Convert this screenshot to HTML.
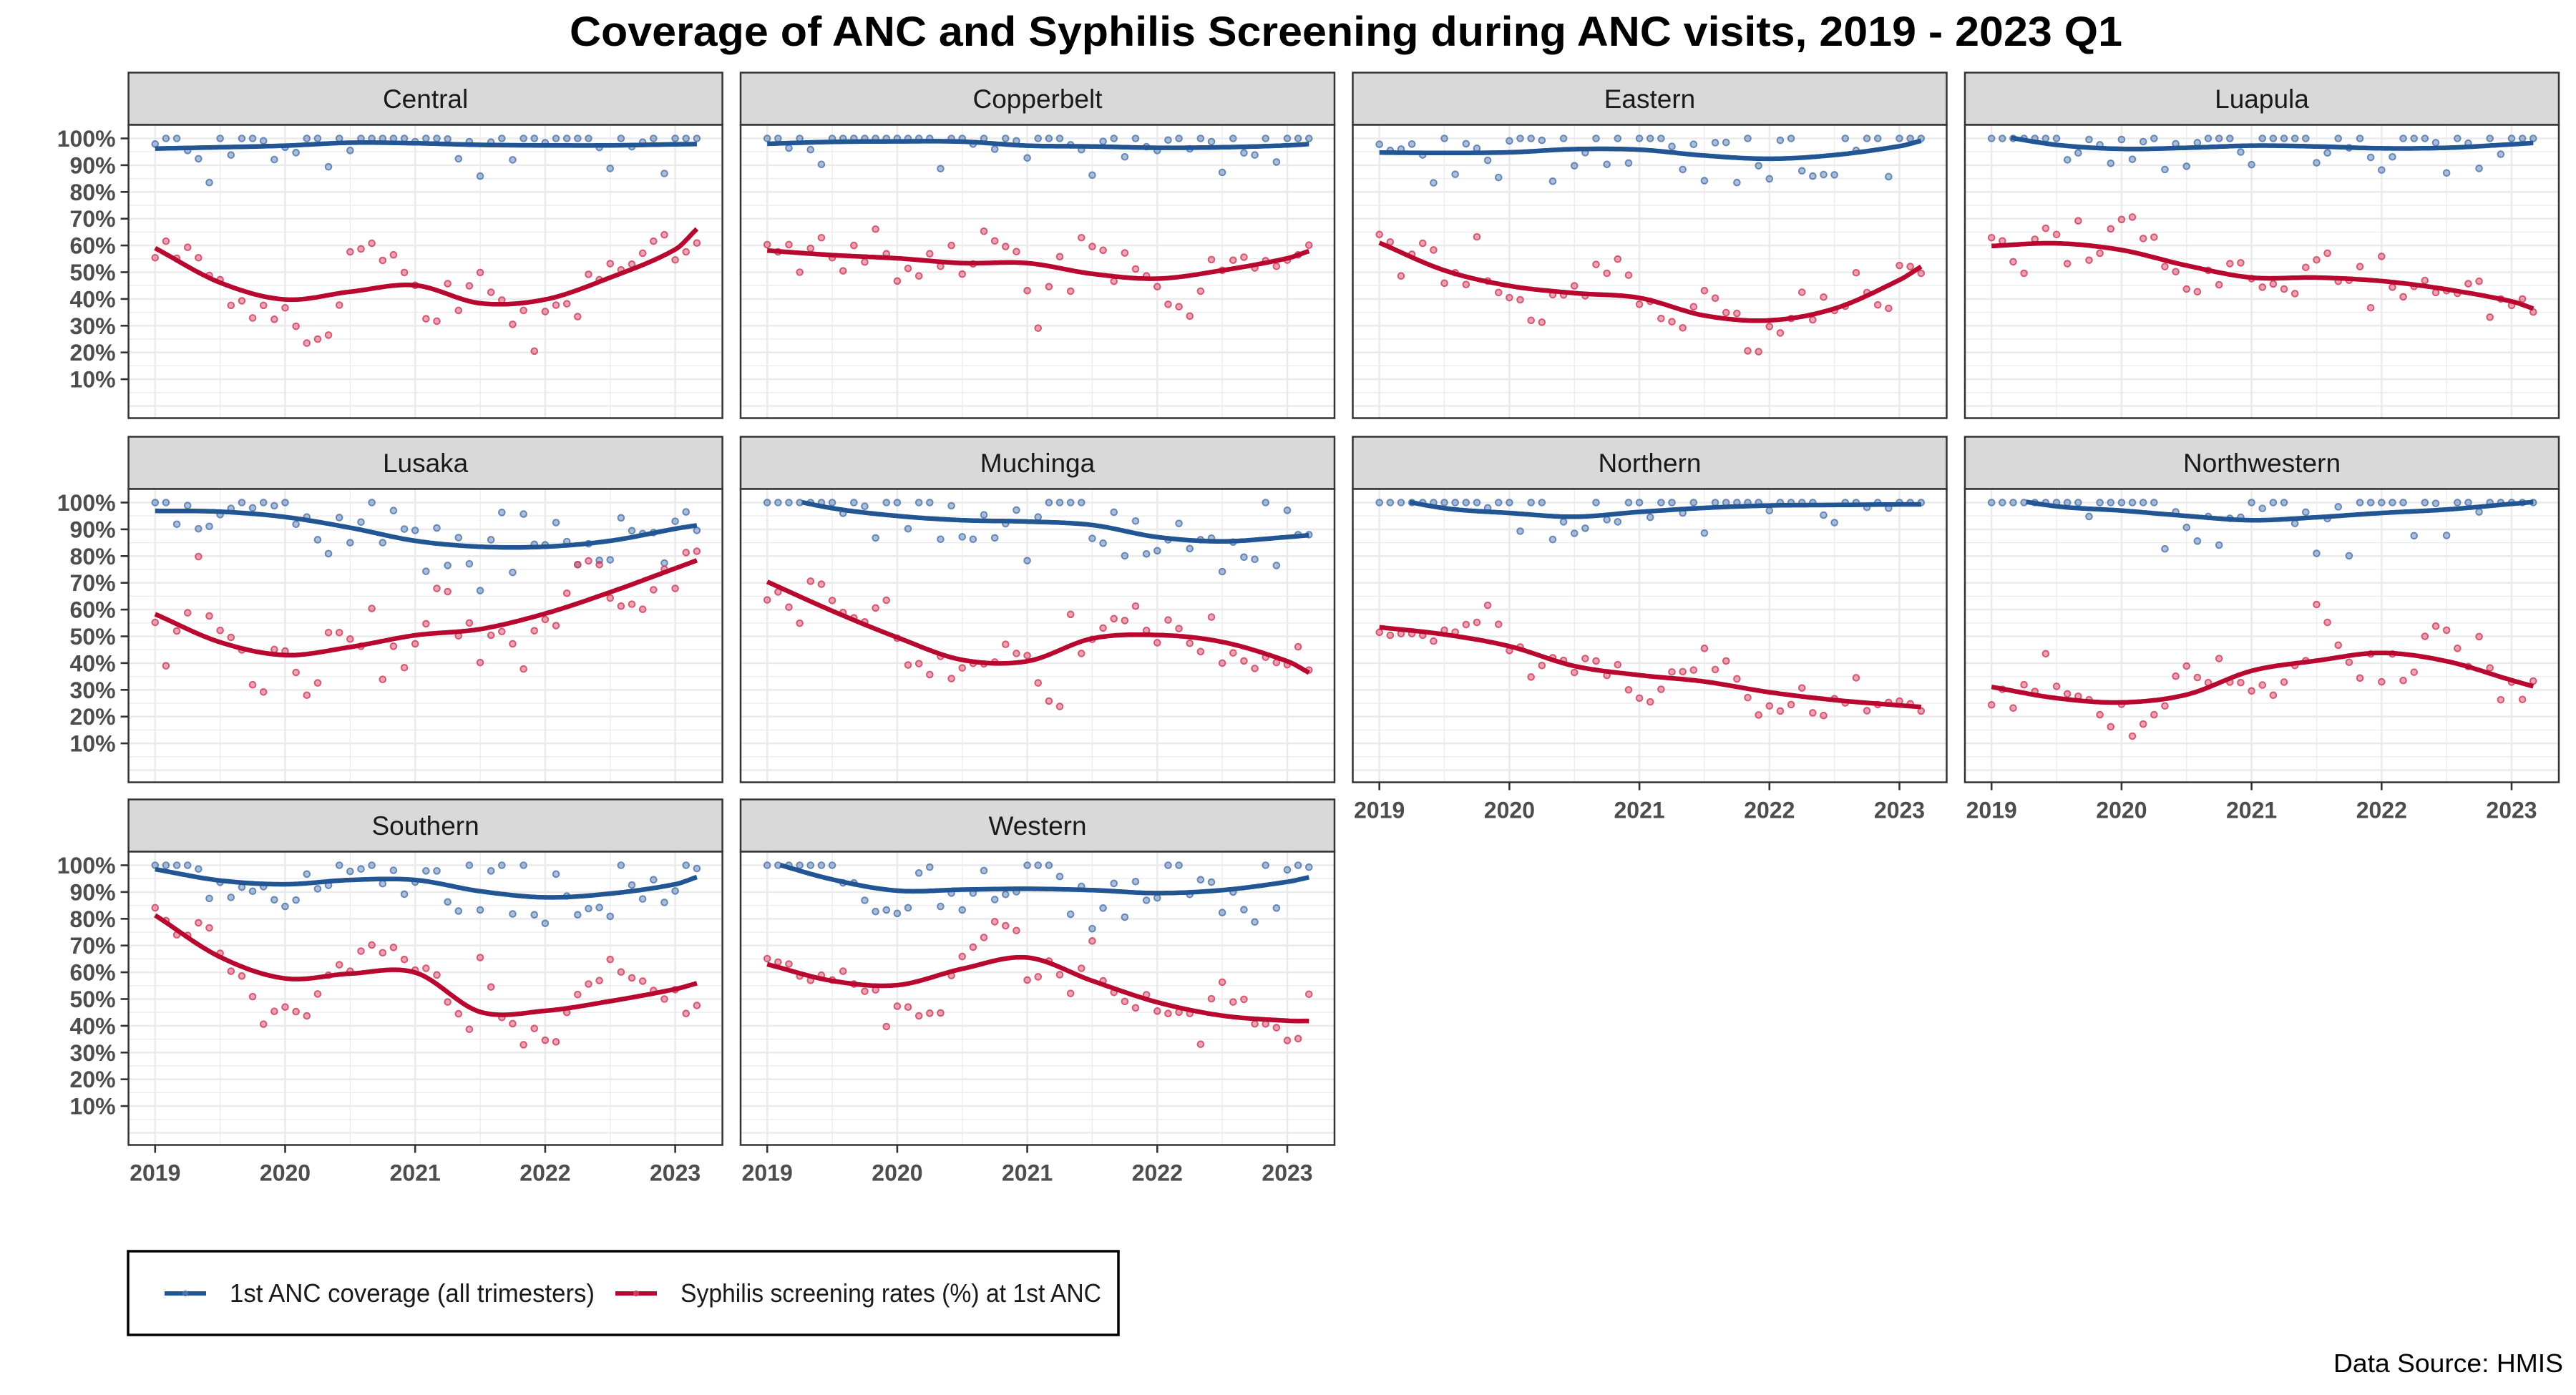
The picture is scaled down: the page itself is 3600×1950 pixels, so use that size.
<!DOCTYPE html>
<html><head><meta charset="utf-8"><title>Coverage of ANC and Syphilis Screening</title>
<style>
html,body{margin:0;padding:0;background:#fff;}
svg{display:block;font-family:"Liberation Sans",sans-serif;}
</style></head>
<body>
<svg id="chart" width="3600" height="1950" viewBox="0 0 3600 1950" xmlns="http://www.w3.org/2000/svg">
<rect x="0" y="0" width="3600" height="1950" fill="#fff"/>
<text x="1881" y="64" text-anchor="middle" font-size="58" font-weight="bold" fill="#000" textLength="2170" lengthAdjust="spacingAndGlyphs">Coverage of ANC and Syphilis Screening during ANC visits, 2019 - 2023 Q1</text>
<g id="panels"></g>
<g>
<rect x="179" y="1749" width="1384" height="117" fill="#fff" stroke="#000" stroke-width="3.5"/>
<g>
<line x1="230" y1="1808" x2="288" y2="1808" stroke="#215594" stroke-width="6"/>
<circle cx="259" cy="1808" r="4" fill="#4a72ab"/>
<text x="321" y="1820" font-size="36" fill="#1a1a1a" textLength="510" lengthAdjust="spacingAndGlyphs">1st ANC coverage (all trimesters)</text>
</g>
<g>
<line x1="860" y1="1808" x2="918" y2="1808" stroke="#b8082f" stroke-width="6"/>
<circle cx="889" cy="1808" r="4" fill="#d03a5a"/>
<text x="951" y="1820" font-size="36" fill="#1a1a1a" textLength="588" lengthAdjust="spacingAndGlyphs">Syphilis screening rates (%) at 1st ANC</text>
</g>
</g>
<text x="3582" y="1918" text-anchor="end" font-size="36" fill="#000" textLength="321" lengthAdjust="spacingAndGlyphs">Data Source: HMIS</text>
</svg>
<script>
// ---- data ----
const regions = ["Central","Copperbelt","Eastern","Luapula","Lusaka","Muchinga","Northern","Northwestern","Southern","Western"];
const yearTicks = [2019,2020,2021,2022,2023];
const yTickValues = [10,20,30,40,50,60,70,80,90,100];
const yTickLabels = ["10%","20%","30%","40%","50%","60%","70%","80%","90%","100%"];
const smoothKnots = [2019,2019.5,2020,2020.5,2021,2021.5,2022,2022.5,2023,2023.1667];

const centralAnc = [97.9,100,100,95.5,92.4,83.5,100,93.8,100,100,99.1,92.1,96.7,94.7,100,100,89.4,100,95.5,100,100,100,100,100,98.8,100,100,99.8,92.4,98.8,85.9,98.6,100,92,100,100,98.4,100,100,100,100,96.6,88.8,100,96.9,98.6,100,86.9,100,100,100];
const centralSyph = [55.4,61.6,55.2,59.3,55.4,48.8,47.2,37.6,39.3,32.9,37.6,32.4,36.7,29.8,23.5,25,26.5,37.7,57.6,58.7,60.8,54.4,56.5,49.9,45.1,32.6,31.7,45.7,35.7,44.9,49.9,42.5,39.6,30.5,35.7,20.5,35.3,37.7,38.2,33.4,49.2,47.2,53.2,50.9,53,57.1,61.6,64,54.6,57.6,60.9];
const centralAncSmooth = [96.2,96.7,97.3,98.4,98.2,97.6,97.4,97.4,97.8,97.9];
const centralSyphSmooth = [59,46.1,39.8,42.7,45.1,38.4,39.8,48,58.5,66.2];

const copperbeltAnc = [100,100,96.4,100,95.8,90.3,100,100,100,100,100,100,100,100,100,100,88.7,100,100,97.9,100,96,100,99.1,92.7,100,100,100,97.6,95.8,86.3,98.9,100,93.1,100,96.9,95.5,99.4,100,96.1,100,98.8,87.3,100,94.6,93.8,100,91.2,100,100,100];
const copperbeltSyph = [60.3,57.6,60.3,50,58.9,62.9,55.4,50.5,60,53.8,66.1,56.9,46.7,51.4,48.6,56.9,52.2,60,49.3,53.1,65.3,61.7,59.6,57.7,43.1,29.1,44.6,55.8,42.9,62.9,59.6,58.2,46.6,57.2,51.2,48.6,44.6,38,37.1,33.6,42.9,54.7,50.7,54.5,55.6,51.6,54.3,52.2,54.5,56.5,60.1];
const copperbeltAncSmooth = [98,98.7,98.9,98.8,97.3,97,96.5,96.7,97.4,97.9];
const copperbeltSyphSmooth = [58.1,56.4,55.2,53.4,53.4,49.4,47.6,50.7,55.2,57.9];

const easternAnc = [97.8,95.5,96,97.9,93.8,83.4,100,86.6,98,96.3,91.8,85.4,99.1,100,100,99.3,84,100,89.8,94.7,100,90.3,100,90.8,100,100,100,97,88.4,97.8,84.2,98.4,98.5,83.5,100,89.8,84.9,99.3,100,87.9,85.9,86.5,86.4,100,95.5,100,100,85.7,100,100,100];
const easternSyph = [64.1,61.3,48.6,56.7,60.8,58.3,45.9,49.8,45.4,63.2,46.7,42.4,40.5,39.7,32,31.3,41.6,41.5,44.9,41.2,52.9,49.6,54.9,48.9,38,39.1,32.7,31.5,29.2,37.1,43.1,40.3,34.9,34.6,20.6,20.3,29.7,27.3,32.7,42.5,32.2,40.7,35.7,37.3,49.8,42.4,37.8,36.5,52.5,52.1,49.6];
const easternAncSmooth = [94.7,94.6,94.8,96,95.8,93.6,92.4,93.8,97.1,99.1];
const easternSyphSmooth = [61,50.7,44.9,42.2,40.4,33.8,32,36.4,47.1,52.1];

const luapulaAnc = [100,100,100,100,100,100,100,92,94.6,99.6,97.6,90.7,99.6,92.2,98.8,100,88.4,98,89.6,98.4,100,100,100,94.9,90.2,100,100,100,100,100,90.9,94.6,100,96.5,100,92.9,88.2,93.1,100,100,100,98.4,87.1,100,98.2,88.8,100,94.1,100,100,100];
const luapulaSyph = [62.9,61.7,53.9,49.6,62.3,66.4,64.1,53.2,69.2,54.5,57.1,66.2,69.7,70.6,62.6,63.1,52.1,50.2,43.7,42.7,50.7,45.3,53.2,53.5,47.6,44.4,45.6,43.7,42,51.8,54.6,57.1,46.6,47,52.1,36.7,55.9,44.4,40.8,44.7,46.9,42.4,43.1,42.1,45.7,46.6,33.2,40,37.6,40,35.1];
const luapulaAncSmooth = [101.5,97.6,96.1,96.5,97.3,97,96.3,96.5,97.8,98.3];
const luapulaSyphSmooth = [59.8,60.8,58.3,52.5,48,48,46.7,43.6,39.1,36.4];

const lusakaAnc = [100,100,91.9,98.9,90.2,91.1,95.5,97.8,100,98,100,98.8,100,91.9,94.6,86.1,80.9,94.4,85,92.7,100,85,97,90.1,89.6,74.3,90.5,76.5,86.9,77.1,67.1,86.1,96.3,73.9,95.7,84.4,84.2,92.5,85.4,76.8,84.6,78.4,78.6,94.3,89.5,88.4,88.8,77.4,93,96.5,89.6];
const lusakaSyph = [55.2,39,52,58.8,79.8,57.6,52.2,49.6,44.9,31.9,29.2,45.1,44.5,36.5,28,32.6,51.4,51.4,49,46.3,60.4,33.9,46.3,38.3,47.2,54.7,67.9,66.7,50.2,55,40.2,50.4,51.8,47.2,37.8,52.1,56.3,54,66.1,76.8,78.2,76.8,64.3,61.3,62,60.1,67.4,75.1,67.9,81.3,81.8];
const lusakaAncSmooth = [96.9,96.6,94.6,90.6,85.7,83.5,83.5,85.7,90.2,91.5];
const lusakaSyphSmooth = [58.3,47.8,43,46,50.4,52.7,58.5,66.5,75.4,78.4];

const muchingaAnc = [100,100,100,100,100,100,100,96,100,98.6,86.8,100,100,90.2,100,100,86.3,98.8,87.2,86.3,95.4,86.8,92.1,97.2,78.3,94.6,100,100,100,100,86.6,84.8,96.4,80.1,93.1,80.8,82,86.1,92.2,82.8,86.1,86.7,74.2,85.2,79.6,78.8,100,76.5,97.1,88,88];
const muchingaSyph = [63.6,66.6,60.9,54.9,70.6,69.5,63.4,58.9,56.9,55.4,60.6,63.5,49.3,39.3,39.8,35.7,42.5,34.2,38.2,39.9,39.7,40.4,47,43.6,42.8,32.6,25.8,23.8,58.2,43.6,48.9,53.1,56.6,55.9,61.3,52.2,47.6,56.1,52.9,47.4,44.3,57.2,40,43.8,40.8,38,42.2,40.2,39.4,46.1,37.4];
const muchingaAncSmooth = [103,97.9,95,93.4,92.9,91.6,87.1,85.5,87.1,87.8];
const muchingaSyphSmooth = [70.4,59.5,49.6,41.2,40.7,49.2,50.5,47.9,40.7,36.4];

const northernAnc = [100,100,100,100,100,100,100,100,100,100,98,100,100,89.3,100,100,86.2,92.8,88.5,90.4,100,93.6,92.8,100,100,94.5,100,100,96.1,100,88.6,100,100,100,100,100,97,100,100,100,100,95.3,92.5,100,100,98.2,100,97.9,100,100,100];
const northernSyph = [51.5,50.4,51,51,50.4,48.2,52.3,51.6,54.4,55.2,61.6,54.5,44.7,46,34.8,39.1,42,41,36.5,41.7,40.8,35.4,39.4,30,26.9,25.5,30.2,36.7,36.8,37.4,45.5,37.6,40.8,34.1,27.1,20.6,24,22.1,24.5,30.7,21.4,20.4,26.7,25.1,34.5,22.2,24.5,25.3,25.8,24.8,22.1];
const northernAncSmooth = [102.5,97.9,96.1,94.7,96.5,98,98.9,99.1,99.3,99.3];
const northernSyphSmooth = [53.4,50.7,46.3,38.9,35.5,33.1,29.1,26.2,24.2,23.6];

const northwesternAnc = [100,100,100,100,100,100,100,100,100,94.8,100,100,100,100,100,100,82.7,96.5,90.7,85.6,94.8,84.1,94.1,94.5,100,97.8,100,100,92.2,96.4,81,94,98.4,80.1,100,100,100,100,100,87.6,100,99.7,87.7,100,100,96.5,100,100,100,100,100];
const northwesternSyph = [24.4,30.2,23.2,31.9,29.4,43.5,31.3,28.5,27.6,26.3,20.7,16.2,24.6,12.7,17.2,20.7,24,35.1,38.9,34.6,32.7,41.7,32.9,32.7,29.6,31.8,28,32.9,39.1,40.9,61.9,55.2,46.7,40.3,34.4,43.4,33,43.4,33.5,36.6,50,53.8,52.3,45.5,38.7,49.9,38.2,26.3,32.9,26.4,33.3];
const northwesternAncSmooth = [102.5,98.6,97,95,93.4,94.5,96.1,97.4,99.5,100.2];
const northwesternSyphSmooth = [31.1,26.9,25.3,28.2,37.1,40.9,43.8,40.7,33.6,31.3];

const southernAnc = [100,100,100,100,98.6,87.6,93.6,88,91.8,90.3,92,87.1,84.6,87,96.7,91.2,92.5,100,97.7,98.6,100,93.1,98.1,89.2,93.7,97.9,97.9,86.3,82.9,100,83.3,97.9,100,81.8,100,81.5,78.3,96.7,88.5,81.5,83.8,84.2,80.9,100,92.6,87.4,94.6,86.1,90.4,100,98.8];
const southernSyph = [84.1,79.3,74,73.8,78.5,76.6,67.1,60.4,58.6,50.9,40.6,45.4,47,45.3,43.7,51.9,58.9,62.8,60.4,67.9,70.2,67.3,69.3,64.8,60.8,61.5,59,48.9,44.5,38.7,65.5,54.5,43.1,40.8,32.9,39,34.6,34,45,51.7,55.6,56.9,64.8,60.1,57.9,56.7,53.2,50,53.5,44.6,47.6];
const southernAncSmooth = [98.5,94.3,92.9,94.5,94.5,90.3,88,89.4,92.9,95.6];
const southernSyphSmooth = [81.3,65.7,57.7,59.5,59.9,45.2,45.6,49.2,53.7,55.9];

const westernAnc = [100,100,100,100,100,100,100,93.4,93.4,86.9,82.7,83.3,82,84.1,97.1,99.3,84.6,89.6,83.3,89.6,98,87.2,89.1,90.1,100,100,100,95.8,81.7,92.1,76.3,84,93.2,80.6,93.9,86.9,87.8,100,100,89.1,94.6,93.7,82.3,90,83.4,78.8,100,84,98.3,100,99.3];
const westernSyph = [65.1,63.8,63.1,58.6,57,58.9,57.1,60.4,55.6,52.9,53.4,39.7,47.3,47,43.7,44.7,44.8,58.8,65.9,69.4,73,78.9,77.4,75.6,57.1,58.3,64.2,59.1,52.1,61.5,71.7,56.8,52.5,49.1,46.7,51.6,45.5,44.6,45.1,44.6,33.1,50.1,56.3,48.9,49.9,40.7,40.7,39.3,34.5,35.2,51.8];
const westernAncSmooth = [101.5,94.7,90.5,90.9,91.2,90.7,89.6,90.7,93.8,95.5];
const westernSyphSmooth = [63,56.8,55.2,61.3,65.5,56.8,48.8,43.8,41.9,41.8];

const ancSeries = [centralAnc,copperbeltAnc,easternAnc,luapulaAnc,lusakaAnc,muchingaAnc,northernAnc,northwesternAnc,southernAnc,westernAnc];
const syphSeries = [centralSyph,copperbeltSyph,easternSyph,luapulaSyph,lusakaSyph,muchingaSyph,northernSyph,northwesternSyph,southernSyph,westernSyph];
const ancSmoothSeries = [centralAncSmooth,copperbeltAncSmooth,easternAncSmooth,luapulaAncSmooth,lusakaAncSmooth,muchingaAncSmooth,northernAncSmooth,northwesternAncSmooth,southernAncSmooth,westernAncSmooth];
const syphSmoothSeries = [centralSyphSmooth,copperbeltSyphSmooth,easternSyphSmooth,luapulaSyphSmooth,lusakaSyphSmooth,muchingaSyphSmooth,northernSyphSmooth,northwesternSyphSmooth,southernSyphSmooth,westernSyphSmooth];

// ---- layout ----
const NS = "http://www.w3.org/2000/svg";
const colLeft = [179.6, 1035, 1890.5, 2746];
const rowTop = [101.5, 610.5, 1117.5];
const PW = 830, STRIP = 73, PH = 410;
const ANC_COLOR = "#215594", SYPH_COLOR = "#b8082f";
const ANC_DOT = "#4a72ab", SYPH_DOT = "#d03a5a";

function mk(tag, attrs, parent){
  const e = document.createElementNS(NS, tag);
  for (const k in attrs) e.setAttribute(k, attrs[k]);
  parent.appendChild(e);
  return e;
}
function monthX(i){ return 2019 + i/12; }

function hermite(xs, ys){
  const n = xs.length, m = [];
  for (let i=0;i<n;i++){
    if (i===0) m.push((ys[1]-ys[0])/(xs[1]-xs[0]));
    else if (i===n-1) m.push((ys[n-1]-ys[n-2])/(xs[n-1]-xs[n-2]));
    else m.push((ys[i+1]-ys[i-1])/(xs[i+1]-xs[i-1]));
  }
  const pts = [];
  for (let i=0;i<n-1;i++){
    const h = xs[i+1]-xs[i];
    const steps = Math.max(6, Math.round(h*60));
    for (let s=0;s<=steps;s++){
      if (i>0 && s===0) continue;
      const t = s/steps, t2=t*t, t3=t2*t;
      const y = (2*t3-3*t2+1)*ys[i] + (t3-2*t2+t)*h*m[i] + (-2*t3+3*t2)*ys[i+1] + (t3-t2)*h*m[i+1];
      pts.push([xs[i]+t*h, y]);
    }
  }
  return pts;
}

const root = document.getElementById('panels');
regions.forEach((name, idx) => {
  const col = idx % 4, row = Math.floor(idx/4);
  const L = colLeft[col], T = rowTop[row], PT = T + STRIP;
  const sx = v => L + 37.2 + (v-2019)*181.7;
  const sy = v => PT + 19 + (100-v)*3.74;
  const slug = name.toLowerCase();
  const g = mk('g', {}, root);
  
  

  const strip = mk('rect', {x:L, y:T, width:PW, height:STRIP, fill:'#d9d9d9', stroke:'#333', 'stroke-width':2.5}, g);
  
  
  const st = mk('text', {x:L+PW/2, y:T+STRIP/2+13, 'text-anchor':'middle', 'font-size':37, fill:'#1a1a1a'}, g);
  st.textContent = name;
  
  

  const bg = mk('rect', {x:L, y:PT, width:PW, height:PH, fill:'#fff'}, g);
  
  

  const grid = mk('g', {}, g);
  
  
  for (let v=-5; v<=105; v+=5){
    const y = sy(v);
    if (y < PT || y > PT+PH) continue;
    const major = v % 10 === 0;
    const gl = mk('line', {x1:L, x2:L+PW, y1:y, y2:y, stroke:'#ebebeb', 'stroke-width': major?2.6:1.3}, grid);
    
    
  }
  for (let yr=2019; yr<=2023.5; yr+=0.5){
    const x = sx(yr);
    if (x > L+PW) continue;
    const major = yr % 1 === 0;
    const gl = mk('line', {x1:x, x2:x, y1:PT, y2:PT+PH, stroke:'#ebebeb', 'stroke-width': major?2.6:1.3}, grid);
    
    
  }

  const seriesDefs = [
    {key:'anc', pts:ancSeries[idx], smooth:ancSmoothSeries[idx], line:ANC_COLOR, dot:ANC_DOT},
    {key:'syphilis', pts:syphSeries[idx], smooth:syphSmoothSeries[idx], line:SYPH_COLOR, dot:SYPH_DOT}
  ];
  seriesDefs.forEach(sd => {
    const pg = mk('g', {}, g);
    
    
    sd.pts.forEach((v, i) => {
      const c = mk('circle', {cx:sx(monthX(i)), cy:sy(v), r:4.3, fill:sd.dot, 'fill-opacity':0.45, stroke:sd.dot, 'stroke-opacity':0.8, 'stroke-width':2}, pg);
      
      
    });
  });
  seriesDefs.forEach(sd => {
    const pts = hermite(smoothKnots, sd.smooth);
    let d = '', pen = false;
    pts.forEach(p => {
      if (p[1] > 100.3) { pen = false; return; }
      d += (pen ? 'L' : 'M') + sx(p[0]).toFixed(1) + ',' + sy(p[1]).toFixed(1);
      pen = true;
    });
    const path = mk('path', {d:d, fill:'none', stroke:sd.line, 'stroke-width':6.5, 'stroke-linejoin':'round'}, g);
    
    
  });

  const border = mk('rect', {x:L, y:PT, width:PW, height:PH, fill:'none', stroke:'#333', 'stroke-width':2.5}, g);
  
  

  if (col === 0){
    const ya = mk('g', {}, g);
    
    
    yTickValues.forEach((v, i) => {
      const y = sy(v);
      const tk = mk('line', {x1:L-11, x2:L, y1:y, y2:y, stroke:'#333', 'stroke-width':2.6}, ya);
      
      
      const tl = mk('text', {x:L-18, y:y+11.5, 'text-anchor':'end', 'font-size':32, 'font-weight':'bold', fill:'#4d4d4d'}, ya);
      tl.textContent = yTickLabels[i];
      
      
    });
  }
  const showX = (row === 2) || (row === 1 && col >= 2);
  if (showX){
    const xa = mk('g', {}, g);
    
    
    yearTicks.forEach(yr => {
      const x = sx(yr);
      const tk = mk('line', {x1:x, x2:x, y1:PT+PH, y2:PT+PH+11, stroke:'#333', 'stroke-width':2.6}, xa);
      
      
      const tl = mk('text', {x:x, y:PT+PH+50, 'text-anchor':'middle', 'font-size':32, 'font-weight':'bold', fill:'#4d4d4d'}, xa);
      tl.textContent = String(yr);
      
      
    });
  }
});
</script>
</body></html>
